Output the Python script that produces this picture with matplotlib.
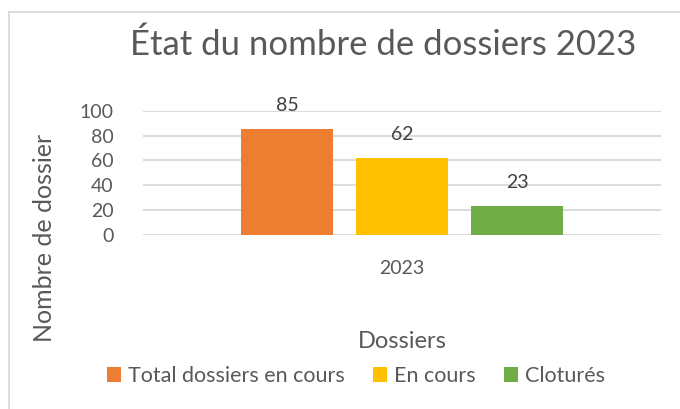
import matplotlib as mpl
mpl.use("Agg")
import matplotlib.pyplot as plt
from matplotlib.lines import Line2D
from matplotlib.patches import Patch

# --- data ---------------------------------------------------------------------
categories = ["2023"]
series_names = ["Total dossiers en cours", "En cours", "Cloturés"]
series_values = [85, 62, 23]
series_colors = ["#ED7D31", "#FFC000", "#70AD47"]
y_ticks = [0, 20, 40, 60, 80, 100]

TEXT = "#595959"
GRID = "#D9D9D9"

plt.rcParams.update({
    "font.family": ["Lato", "DejaVu Sans"],
    "font.size": 12,
})

W, H = 680, 409
fig = plt.figure(figsize=(W / 100, H / 100), dpi=100)

# plot area in pixels (from the reference)
x0, x1 = 143, 661
y_top, y_bot = 110.7, 235
ax = fig.add_axes([x0 / W, (H - y_bot) / H, (x1 - x0) / W, (y_bot - y_top) / H])

bar_w = 0.176
step = 0.222
for i, (name, val, col) in enumerate(zip(series_names, series_values, series_colors)):
    xc = (i - 1) * step
    ax.bar(xc, val, width=bar_w, color=col, zorder=3, label=name)
    ax.annotate(str(val), xy=(xc, val), xytext=(0, 11), textcoords="offset points",
                ha="center", va="bottom", fontsize=14, color="#404040",
                annotation_clip=False)

ax.set_xlim(-0.5, 0.5)
ax.set_ylim(0, 100)
ax.set_yticks(y_ticks)
ax.set_xticks([0])
ax.set_xticklabels(categories)
ax.tick_params(axis="both", length=0, labelsize=14, colors=TEXT)
ax.tick_params(axis="y", pad=21)
ax.tick_params(axis="x", pad=18)
ax.yaxis.grid(True, color=GRID, lw=1.3, zorder=0)
ax.set_axisbelow(True)
for s in ax.spines.values():
    s.set_visible(False)

ax.set_xlabel("Dossiers", fontsize=17, color=TEXT, labelpad=39)

fig.text(45 / W, 1 - 238 / H, "Nombre de dossier", rotation=90, ha="center",
         va="center", fontsize=18, color=TEXT)
fig.text(383 / W, 1 - 45 / H, "État du nombre de dossiers 2023", ha="center",
         va="center", fontsize=25, color=TEXT)

# chart frame (only left and top edges visible in the crop)
fig.add_artist(Line2D([9 / W, 9 / W], [0, 1 - 12 / H], color=GRID, lw=1.3))
fig.add_artist(Line2D([9 / W, 1], [1 - 12 / H, 1 - 12 / H], color=GRID, lw=1.3))

handles = [Patch(facecolor=c, edgecolor="none") for c in series_colors]
fig.legend(handles, series_names, loc="center", bbox_to_anchor=(356 / W, 1 - 376 / H),
           ncol=3, frameon=False, fontsize=15.5, labelcolor=TEXT,
           handlelength=0.65, handleheight=0.65, handletextpad=0.3, columnspacing=1.35)

fig.savefig("out.png", dpi=100, facecolor="white")
